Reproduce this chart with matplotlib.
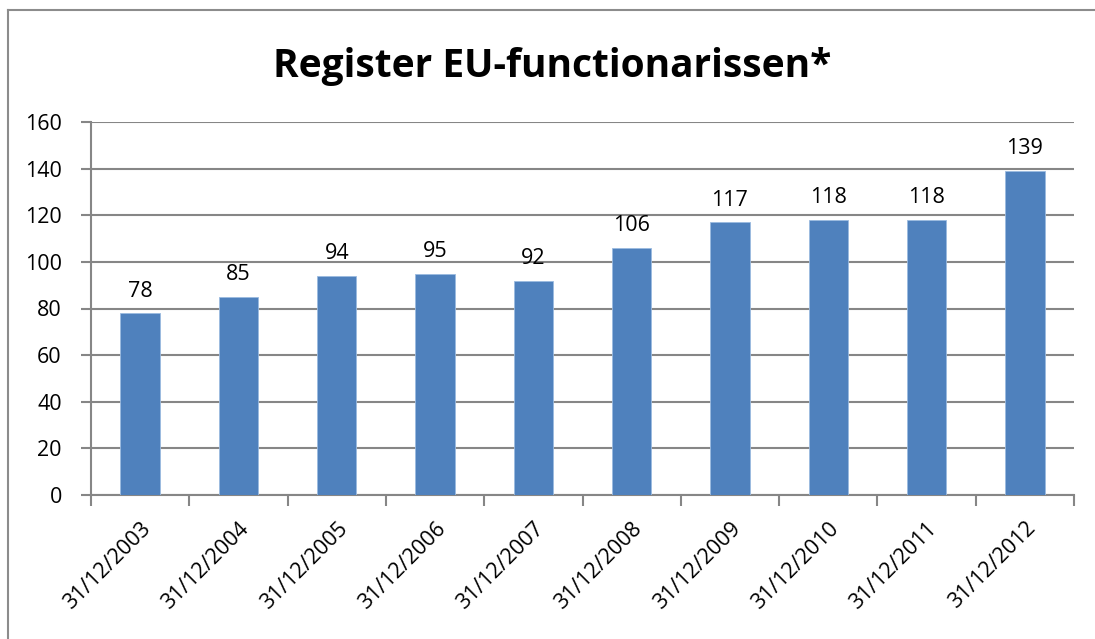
import matplotlib.pyplot as plt
from matplotlib.lines import Line2D

dates = ["31/12/2003", "31/12/2004", "31/12/2005", "31/12/2006", "31/12/2007",
         "31/12/2008", "31/12/2009", "31/12/2010", "31/12/2011", "31/12/2012"]
counts = [78, 85, 94, 95, 92, 106, 117, 118, 118, 139]
title = "Register EU-functionarissen*"

plt.rcParams["font.family"] = ["Open Sans", "DejaVu Sans"]

W, H = 1095, 639
fig = plt.figure(figsize=(W / 100, H / 100), dpi=100)

# outer chart border (only left and top are inside the crop)
bx, by = 8 / W, 1 - 10 / H
fig.lines.append(Line2D([bx, bx], [0, by], transform=fig.transFigure, color="#8c8c8c", lw=1.5))
fig.lines.append(Line2D([bx, 1.01], [by, by], transform=fig.transFigure, color="#8c8c8c", lw=1.5))

ax = fig.add_axes([91 / W, 1 - 495 / H, (1074 - 91) / W, (495 - 122) / H])
x = range(len(counts))
ax.bar(x, counts, width=0.4, color="#4f81bd", edgecolor="#9bbbe0", lw=0.6, zorder=3)
for xi, v in zip(x, counts):
    ax.text(xi, v + 5, str(v), ha="center", va="bottom", fontsize=15.5, color="black")

ax.set_xlim(-0.5, len(counts) - 0.5)
ax.set_ylim(0, 160)
ax.set_yticks(range(0, 161, 20))
ax.tick_params(axis="y", labelsize=15.5, length=7, color="#868686", width=1.5, pad=14)
ax.grid(axis="y", color="#868686", lw=1.5, zorder=0)

# category boundaries get the tick marks, labels sit at the bar centres
ax.set_xticks([i - 0.5 for i in range(len(counts) + 1)], minor=False)
ax.set_xticklabels([])
ax.tick_params(axis="x", length=8, color="#868686", width=1.5)
ax.set_xticks(list(x), minor=True)
ax.set_xticklabels(dates, minor=True, rotation=45, ha="right", va="top",
                   rotation_mode="anchor", fontsize=15.5)
ax.tick_params(axis="x", which="minor", length=0, pad=16.5)

for s in ["top", "right"]:
    ax.spines[s].set_visible(False)
for s in ["left", "bottom"]:
    ax.spines[s].set_color("#868686")
    ax.spines[s].set_linewidth(1.5)

fig.text(552 / W, 1 - 66 / H, title, ha="center", va="center",
         fontsize=28, fontweight="bold")

fig.savefig("out.png", dpi=100)
